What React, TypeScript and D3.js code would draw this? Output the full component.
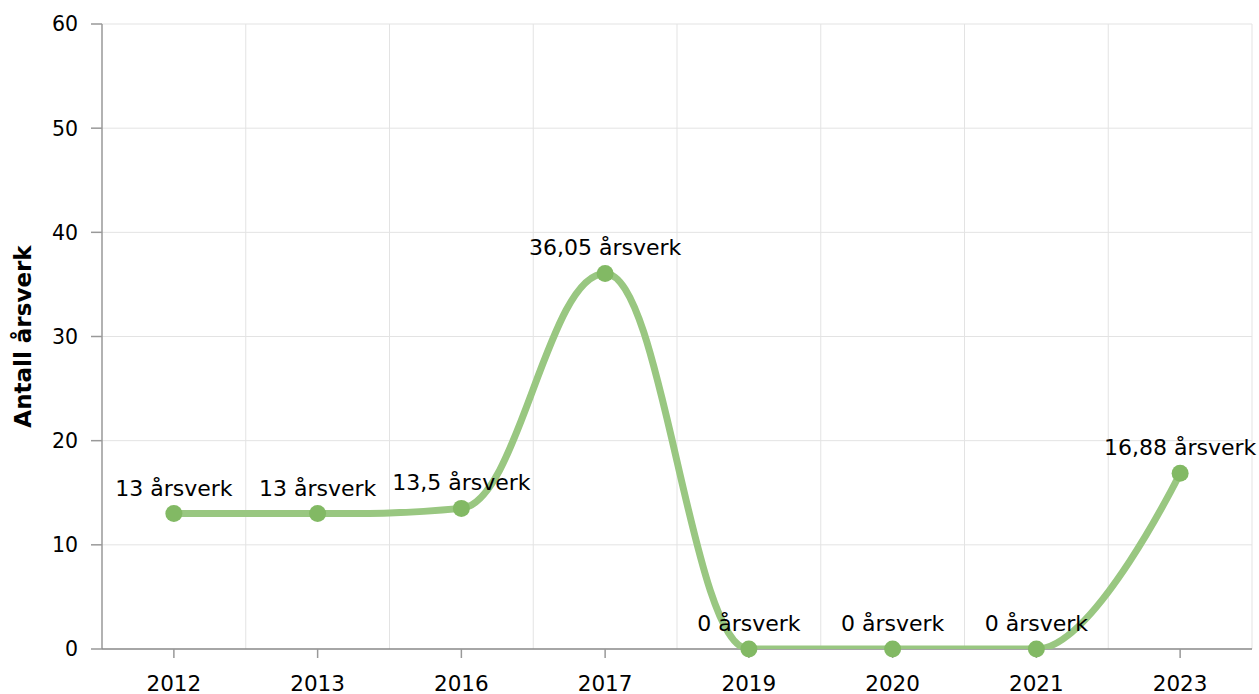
import { useEffect, useRef } from 'react';
import * as d3 from 'd3';

const years = ['2012', '2013', '2016', '2017', '2019', '2020', '2021', '2023'];
const values = [13, 13, 13.5, 36.05, 0, 0, 0, 16.88];
const yTicks = [0, 10, 20, 30, 40, 50, 60];
const valueLabels = ['13', '13', '13,5', '36,05', '0', '0', '0', '16,88'];
const unit = 'årsverk';
const yTitle = 'Antall årsverk';

const W = 1259;
const H = 694;
const margin = { top: 24, right: 7, bottom: 45, left: 102 };
const FONT = '"DejaVu Sans", Verdana, sans-serif';

// Highcharts-like spline as a d3 curve factory
function splineCurve(context: any) {
  let pts: [number, number][] = [];
  return {
    areaStart() {},
    areaEnd() {},
    lineStart() {
      pts = [];
    },
    point(x: number, y: number) {
      pts.push([+x, +y]);
    },
    lineEnd() {
      const smoothing = 1.5;
      const denom = smoothing + 1;
      const ctrl = pts.map(([px, py], i) => {
        const last = pts[i - 1];
        const next = pts[i + 1];
        if (!last || !next) return null;
        let lx = (smoothing * px + last[0]) / denom;
        let ly = (smoothing * py + last[1]) / denom;
        const rx = (smoothing * px + next[0]) / denom;
        let ry = (smoothing * py + next[1]) / denom;
        let corr = 0;
        if (rx !== lx) corr = ((ry - ly) * (rx - px)) / (rx - lx) + py - ry;
        ly += corr;
        ry += corr;
        if (ly > last[1] && ly > py) {
          ly = Math.max(last[1], py);
          ry = 2 * py - ly;
        } else if (ly < last[1] && ly < py) {
          ly = Math.min(last[1], py);
          ry = 2 * py - ly;
        }
        if (ry > next[1] && ry > py) {
          ry = Math.max(next[1], py);
          ly = 2 * py - ry;
        } else if (ry < next[1] && ry < py) {
          ry = Math.min(next[1], py);
          ly = 2 * py - ry;
        }
        return { lx, ly, rx, ry };
      });
      pts.forEach(([px, py], i) => {
        if (i === 0) {
          context.moveTo(px, py);
          return;
        }
        const [ax, ay] = pts[i - 1];
        const c0 = ctrl[i - 1];
        const c1 = ctrl[i];
        context.bezierCurveTo(
          c0 ? c0.rx : ax,
          c0 ? c0.ry : ay,
          c1 ? c1.lx : px,
          c1 ? c1.ly : py,
          px,
          py
        );
      });
    },
  };
}

export default function App() {
  const svgRef = useRef<SVGSVGElement>(null);

  useEffect(() => {
    if (!svgRef.current) return;
    const svg = d3.select(svgRef.current);
    svg.selectAll('*').remove();

    const x = d3
      .scaleBand<string>()
      .domain(years)
      .range([margin.left, W - margin.right]);
    const y = d3
      .scaleLinear()
      .domain([0, 60])
      .range([H - margin.bottom, margin.top]);

    const left = margin.left;
    const right = W - margin.right;
    const bottom = H - margin.bottom;
    const top = margin.top;

    // clip
    svg
      .append('defs')
      .append('clipPath')
      .attr('id', 'plotClip')
      .append('rect')
      .attr('x', left)
      .attr('y', top)
      .attr('width', right - left)
      .attr('height', bottom - top);

    // horizontal grid
    svg
      .append('g')
      .selectAll('line')
      .data(yTicks.filter((t) => t > 0))
      .enter()
      .append('line')
      .attr('x1', left)
      .attr('x2', right)
      .attr('y1', (d) => y(d))
      .attr('y2', (d) => y(d))
      .attr('stroke', '#e3e3e3')
      .attr('stroke-width', 1);

    // vertical grid at band boundaries
    const bounds = years.slice(1).map((c) => x(c)!).concat([right]);
    svg
      .append('g')
      .selectAll('line')
      .data(bounds)
      .enter()
      .append('line')
      .attr('x1', (d) => d)
      .attr('x2', (d) => d)
      .attr('y1', top)
      .attr('y2', bottom)
      .attr('stroke', '#e3e3e3')
      .attr('stroke-width', 1);

    // y axis
    const yAxis = svg.append('g');
    yAxis
      .append('line')
      .attr('x1', left)
      .attr('x2', left)
      .attr('y1', top)
      .attr('y2', bottom)
      .attr('stroke', '#999')
      .attr('stroke-width', 1.5);
    yAxis
      .selectAll('line.tick')
      .data(yTicks)
      .enter()
      .append('line')
      .attr('class', 'tick')
      .attr('x1', left - 11)
      .attr('x2', left)
      .attr('y1', (d) => y(d))
      .attr('y2', (d) => y(d))
      .attr('stroke', '#999')
      .attr('stroke-width', 1.5);
    yAxis
      .selectAll('text')
      .data(yTicks)
      .enter()
      .append('text')
      .attr('x', left - 24)
      .attr('y', (d) => y(d))
      .attr('dy', '0.36em')
      .attr('text-anchor', 'end')
      .attr('font-family', FONT)
      .attr('font-size', 20.5)
      .attr('fill', '#000')
      .text((d) => String(d));

    // x axis
    const xAxis = svg.append('g');
    xAxis
      .append('line')
      .attr('x1', left)
      .attr('x2', right)
      .attr('y1', bottom)
      .attr('y2', bottom)
      .attr('stroke', '#888')
      .attr('stroke-width', 1.5);
    xAxis
      .selectAll('line.tick')
      .data(years)
      .enter()
      .append('line')
      .attr('class', 'tick')
      .attr('x1', (d) => x(d)! + x.bandwidth() / 2)
      .attr('x2', (d) => x(d)! + x.bandwidth() / 2)
      .attr('y1', bottom)
      .attr('y2', bottom + 9)
      .attr('stroke', '#999')
      .attr('stroke-width', 1.5);
    xAxis
      .selectAll('text')
      .data(years)
      .enter()
      .append('text')
      .attr('x', (d) => x(d)! + x.bandwidth() / 2)
      .attr('y', bottom + 42)
      .attr('text-anchor', 'middle')
      .attr('font-family', FONT)
      .attr('font-size', 21.5)
      .attr('fill', '#000')
      .text((d) => d);

    // y title
    svg
      .append('text')
      .attr('transform', `translate(31, ${(top + bottom) / 2}) rotate(-90)`)
      .attr('text-anchor', 'middle')
      .attr('font-family', FONT)
      .attr('font-size', 23)
      .attr('font-weight', 'bold')
      .attr('fill', '#000')
      .text(yTitle);

    // line
    const cx = (i: number) => x(years[i])! + x.bandwidth() / 2;
    const line = d3
      .line<number>()
      .x((_, i) => cx(i))
      .y((d) => y(d))
      .curve(splineCurve as any);

    svg
      .append('path')
      .datum(values)
      .attr('clip-path', 'url(#plotClip)')
      .attr('d', line)
      .attr('fill', 'none')
      .attr('stroke', '#99c781')
      .attr('stroke-width', 7)
      .attr('stroke-linecap', 'round')
      .attr('stroke-linejoin', 'round');

    // markers
    svg
      .append('g')
      .selectAll('circle')
      .data(values)
      .enter()
      .append('circle')
      .attr('cx', (_, i) => cx(i))
      .attr('cy', (d) => y(d))
      .attr('r', 8.5)
      .attr('fill', '#82b964');

    // data labels
    svg
      .append('g')
      .selectAll('text')
      .data(values)
      .enter()
      .append('text')
      .attr('x', (_, i) => cx(i))
      .attr('y', (d) => y(d) - 18)
      .attr('text-anchor', 'middle')
      .attr('font-family', FONT)
      .attr('font-size', 22)
      .attr('fill', '#000')
      .text((_, i) => `${valueLabels[i]} ${unit}`);
  }, []);

  return (
    <svg
      ref={svgRef}
      width={W}
      height={H}
      style={{ position: 'absolute', left: 0, top: 0, background: '#fff' }}
    />
  );
}
